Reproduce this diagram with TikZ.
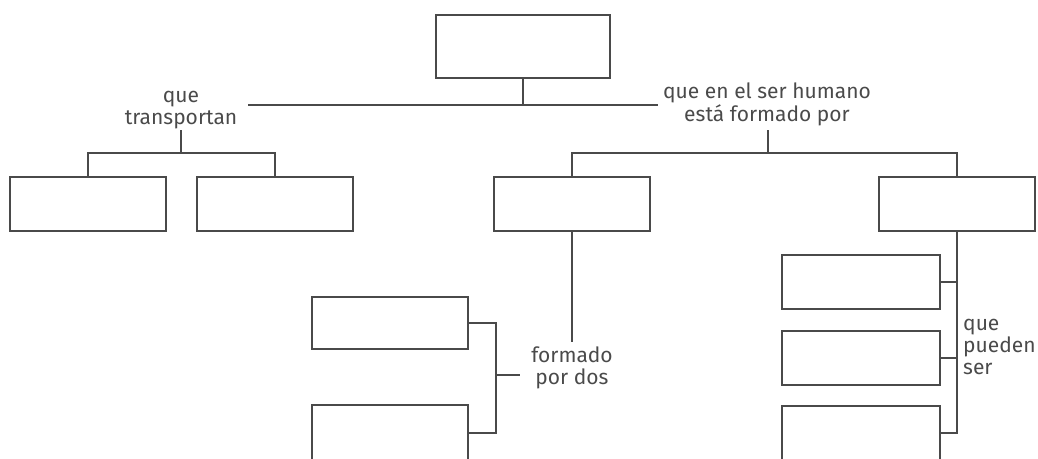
\documentclass[tikz,border=0pt]{standalone}
\usepackage{fontspec}
\setmainfont{Fira Sans}
\definecolor{ln}{HTML}{4A4A4A}
\definecolor{tx}{HTML}{4A4A4A}
\tikzset{
  box/.style={draw=ln, line width=1.4pt, fill=white, inner sep=0pt, outer sep=0pt},
  conn/.style={draw=ln, line width=1.4pt},
  lbl/.style={text=tx, font=\fontsize{21}{22}\selectfont, align=center, inner sep=0pt},
}
\begin{document}
\begin{tikzpicture}[x=1pt,y=-1pt]
\useasboundingbox (0,0) rectangle (1038,458);
\clip (0,0) rectangle (1038,458);
% boxes
\node[box, minimum width=174pt, minimum height=63pt] (top) at (523,46.5) {};
\node[box, minimum width=156pt, minimum height=54pt] (b1) at (88,204) {};
\node[box, minimum width=156pt, minimum height=54pt] (b2) at (275,204) {};
\node[box, minimum width=156pt, minimum height=54pt] (b3) at (572,204) {};
\node[box, minimum width=156pt, minimum height=54pt] (b4) at (957,204) {};
\node[box, minimum width=156pt, minimum height=52pt] (b5) at (390,323) {};
\node[box, minimum width=156pt, minimum height=64pt] (b6) at (390,437) {};
\node[box, minimum width=158pt, minimum height=54pt] (b7) at (861,282) {};
\node[box, minimum width=158pt, minimum height=54pt] (b8) at (861,358) {};
\node[box, minimum width=158pt, minimum height=64pt] (b9) at (861,438) {};
% labels
\node[lbl, anchor=base] (l1a) at (181,102) {que};
\node[lbl, anchor=base] (l1b) at (181,124) {transportan};
\node[lbl, anchor=base] (l2a) at (767,98) {que en el ser humano};
\node[lbl, anchor=base] (l2b) at (767,121) {está formado por};
\node[lbl, anchor=base] (l3a) at (572,362) {formado};
\node[lbl, anchor=base] (l3b) at (572,384) {por dos};
\node[lbl, anchor=base west] (l4a) at (963,330) {que};
\node[lbl, anchor=base west] (l4b) at (963,352) {pueden};
\node[lbl, anchor=base west] (l4c) at (963,374) {ser};
% junction coordinates
\coordinate (h0) at (523,105);
\coordinate (hl) at (248,105);
\coordinate (hr) at (658,105);
\coordinate (j1) at (181,153);
\coordinate (j1t) at (181,130);
\coordinate (j2) at (768,153);
\coordinate (j2t) at (768,130);
\coordinate (f) at (572,342);
\coordinate (k) at (496,433);
\coordinate (m1) at (496,375);
\coordinate (m2) at (520,375);
\coordinate (k2) at (957,433);
% connectors
\draw[conn] (top.south) -- (h0);
\draw[conn] (hl) -- (hr);
\draw[conn] (j1t) -- (j1);
\draw[conn] (b1.north) |- (j1) -| (b2.north);
\draw[conn] (j2t) -- (j2);
\draw[conn] (b3.north) |- (j2) -| (b4.north);
\draw[conn] (b3.south) -- (f);
\draw[conn] (b5.east) -| (k) -- (k -| b6.east);
\draw[conn] (m1) -- (m2);
\draw[conn] (b4.south) -- (k2) -- (k2 -| b9.east);
\draw[conn] (b7.east) -- (b7.east -| k2);
\draw[conn] (b8.east) -- (b8.east -| k2);
\end{tikzpicture}
\end{document}
